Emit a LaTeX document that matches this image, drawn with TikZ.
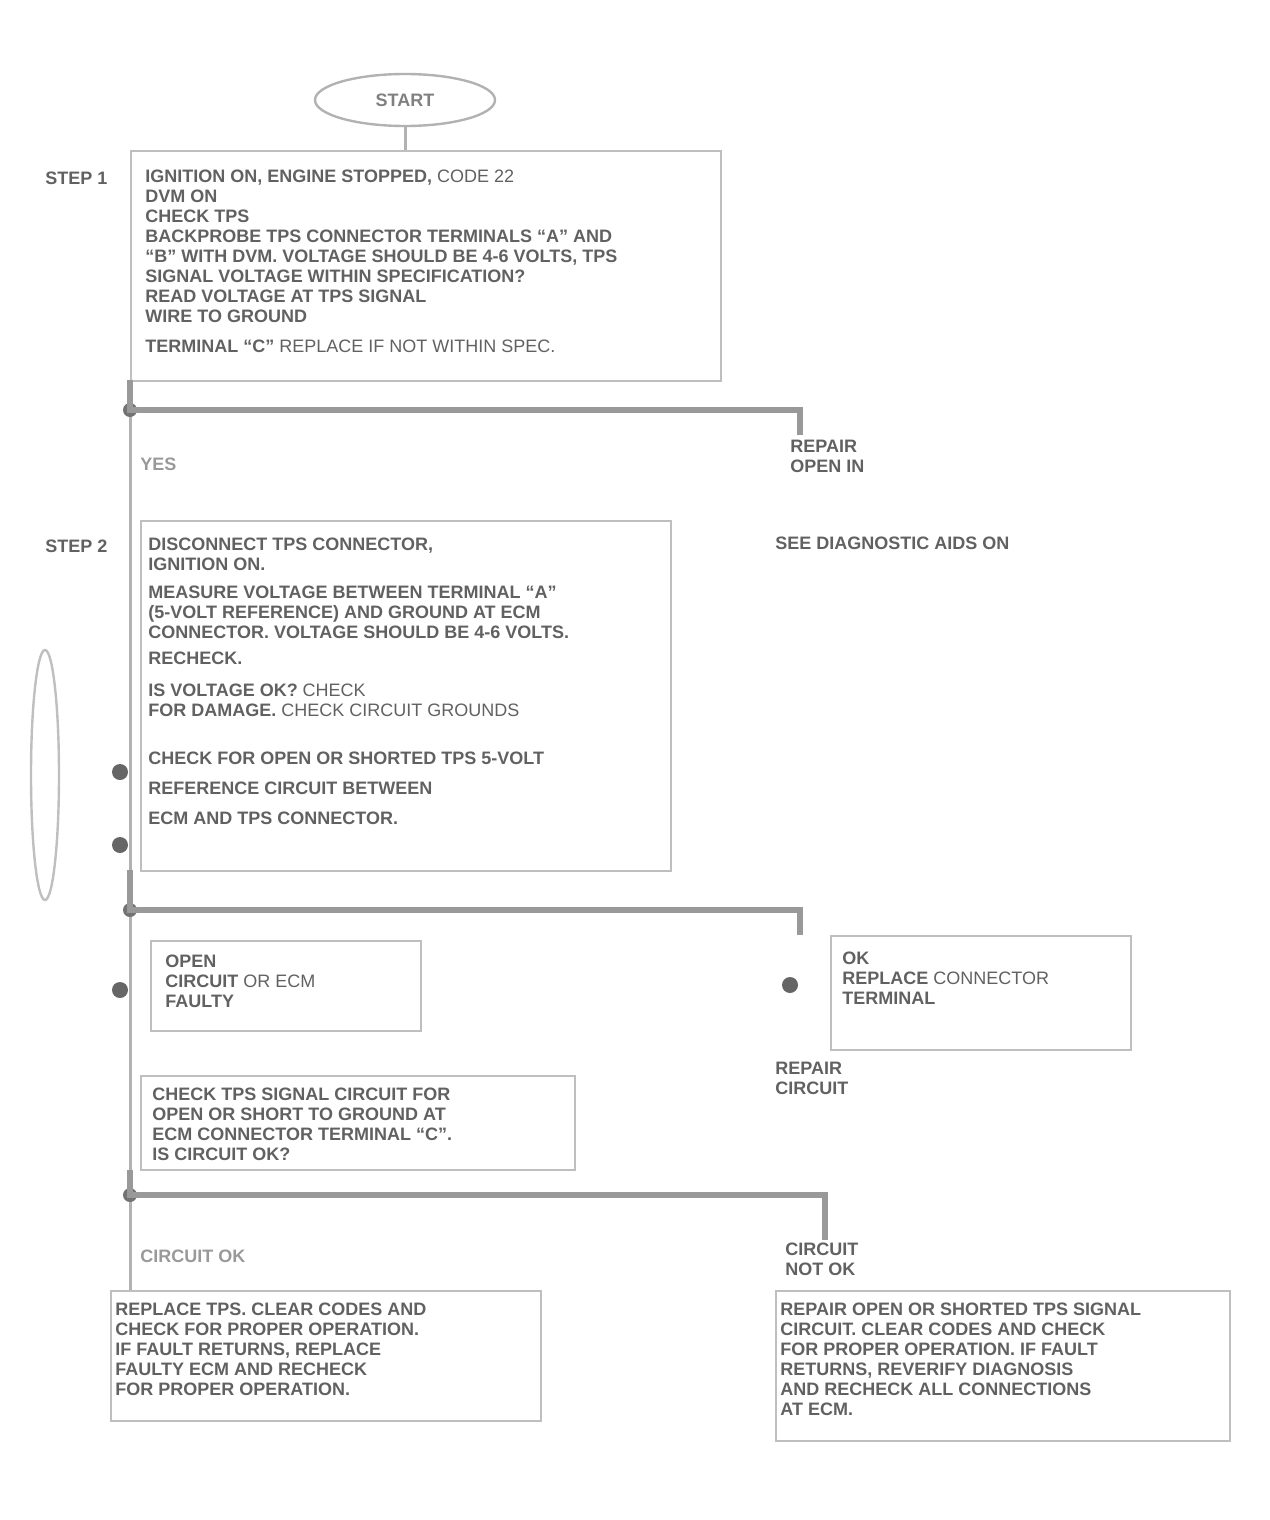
\documentclass[tikz,border=0pt]{standalone}
\usepackage{fontspec}
\setmainfont{Liberation Sans}
\usetikzlibrary{shapes.geometric}
\begin{document}
\begin{tikzpicture}[x=0.5pt,y=-0.5pt]
\tikzset{
  txt/.style={anchor=north west, align=left, inner sep=0pt, font=\fontsize{9}{10}\selectfont\bfseries, text=black!62},
  lbl/.style={txt, text=black!40},
  boxn/.style={draw=black!25, line width=1.2pt, anchor=north west, inner sep=0pt},
  flow/.style={draw=black!40, line width=2.8pt},
  thin/.style={draw=black!30, line width=1.5pt},
  jdot/.style={circle, fill=black!55, minimum size=7pt, inner sep=0pt},
  bullet/.style={circle, fill=black!60, minimum size=8pt, inner sep=0pt}
}
\useasboundingbox (0,0) rectangle (1269,1520);

% start oval
\node[draw=black!30, line width=1.2pt, ellipse, minimum width=90pt, minimum height=26pt, font=\fontsize{9}{10}\selectfont\bfseries, text=black!50] (start) at (405,100) {START};

% box 1
\node[boxn, minimum width=295pt, minimum height=115pt] (b1) at (130,150) {};
\node[txt] (s1) at (45,172) {STEP 1};
\node[txt] (t1) at (145,170) {IGNITION ON, ENGINE STOPPED, \textnormal{CODE 22}\\
DVM ON\\
CHECK TPS\\
BACKPROBE TPS CONNECTOR TERMINALS ``A'' AND\\
``B'' WITH DVM. VOLTAGE SHOULD BE 4-6 VOLTS, TPS\\
SIGNAL VOLTAGE WITHIN SPECIFICATION?\\
READ VOLTAGE AT TPS SIGNAL\\
WIRE TO GROUND\\[5pt]
TERMINAL ``C'' \textnormal{REPLACE IF NOT WITHIN SPEC.}};
\draw[thin] (start.south) -- (start.south |- b1.north);

% main vertical
\draw[thin] (b1.south west) -- (130,1290);

% branch 1
\coordinate (j1) at (130,410);
\coordinate (j1r) at (800,410);
\coordinate (j1d) at (800,435);
\node[jdot] (d1) at (j1) {};
\draw[flow] (130,380) -- (j1) -- (j1r) -- (j1d);
\node[lbl] (n1) at (140,458) {YES};
\node[txt] (r1) at (790,440) {REPAIR\\OPEN IN};
\node[txt] (r1b) at (775,537) {SEE DIAGNOSTIC AIDS ON}; 

% box 2
\node[boxn, minimum width=265pt, minimum height=175pt] (b2) at (140,520) {};
\node[txt] (s2) at (45,540) {STEP 2};
\node[draw=black!25, line width=1.2pt, ellipse, minimum width=14pt, minimum height=125pt] (loop) at (45,775) {};
\node[txt] (t2) at (148,538) {DISCONNECT TPS CONNECTOR,\\
IGNITION ON.\\[4pt]
MEASURE VOLTAGE BETWEEN TERMINAL ``A''\\
(5-VOLT REFERENCE) AND GROUND AT ECM\\
CONNECTOR. VOLTAGE SHOULD BE 4-6 VOLTS.\\[3pt]
RECHECK.\\[6pt]
IS VOLTAGE OK? \textnormal{CHECK}\\
FOR DAMAGE. \textnormal{CHECK CIRCUIT GROUNDS}\\[14pt]
CHECK FOR OPEN OR SHORTED TPS 5-VOLT\\[5pt]
REFERENCE CIRCUIT BETWEEN\\[5pt]
ECM AND TPS CONNECTOR.};
\node[bullet] (p1) at (120,772) {};
\node[bullet] (p2) at (120,845) {};

% branch 2
\coordinate (j2) at (130,910);
\coordinate (j2r) at (800,910);
\coordinate (j2d) at (800,935);
\node[jdot] (d2) at (j2) {};
\draw[flow] (130,870) -- (j2) -- (j2r) -- (j2d);

\node[boxn, minimum width=135pt, minimum height=45pt] (b3) at (150,940) {};
\node[bullet] (p3) at (120,990) {};
\node[txt] (t3) at (165,955) {OPEN\\CIRCUIT \textnormal{OR ECM}\\FAULTY};

\node[boxn, minimum width=150pt, minimum height=57pt] (b4) at (830,935) {};
\node[bullet] (p4) at (790,985) {};
\node[txt] (t4) at (842,952) {OK\\REPLACE \textnormal{CONNECTOR}\\TERMINAL};
\node[txt] (r4) at (775,1062) {REPAIR\\CIRCUIT};

\node[boxn, minimum width=217pt, minimum height=47pt] (b5) at (140,1075) {};
\node[txt] (t5) at (152,1088) {CHECK TPS SIGNAL CIRCUIT FOR\\OPEN OR SHORT TO GROUND AT\\ECM CONNECTOR TERMINAL ``C''.\\IS CIRCUIT OK?};

% branch 3
\coordinate (j3) at (130,1195);
\coordinate (j3r) at (825,1195);
\coordinate (j3d) at (825,1240);
\node[jdot] (d3) at (j3) {};
\draw[flow] (130,1170) -- (j3) -- (j3r) -- (j3d);

\node[lbl] (n3) at (140,1250) {CIRCUIT OK};
\node[boxn, minimum width=215pt, minimum height=65pt] (b6) at (110,1290) {};
\node[txt] (t6) at (115,1303) {REPLACE TPS. CLEAR CODES AND\\CHECK FOR PROPER OPERATION.\\IF FAULT RETURNS, REPLACE\\FAULTY ECM AND RECHECK\\FOR PROPER OPERATION.};

\node[txt] (n4) at (785,1243) {CIRCUIT\\NOT OK};
\node[boxn, minimum width=227pt, minimum height=75pt] (b7) at (775,1290) {};
\node[txt] (t7) at (780,1303) {REPAIR OPEN OR SHORTED TPS SIGNAL\\CIRCUIT. CLEAR CODES AND CHECK\\FOR PROPER OPERATION. IF FAULT\\RETURNS, REVERIFY DIAGNOSIS\\AND RECHECK ALL CONNECTIONS\\AT ECM.};
\end{tikzpicture}
\end{document}
